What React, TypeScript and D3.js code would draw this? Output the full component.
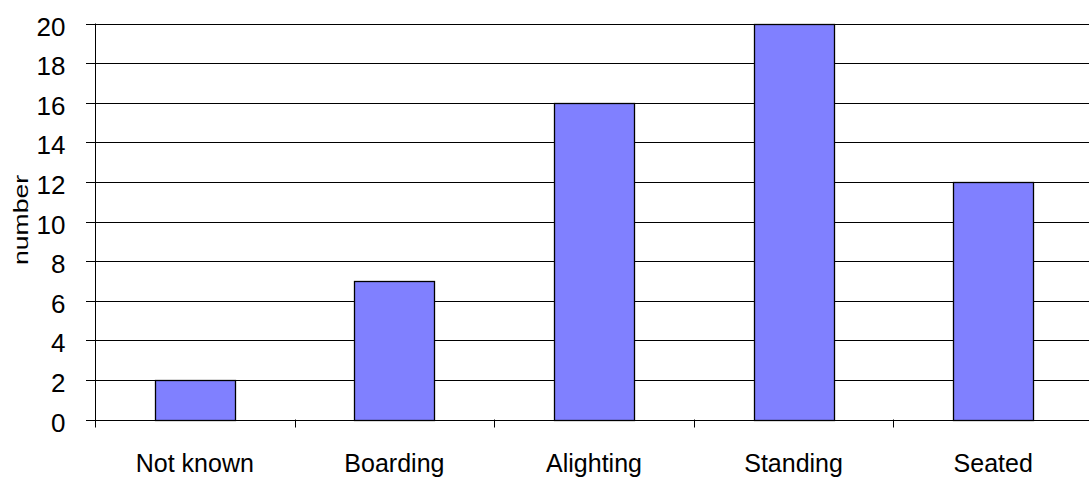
import * as d3 from "d3";

const categories = ["Not known", "Boarding", "Alighting", "Standing", "Seated"];
const values = [2, 7, 16, 20, 12];
const yTicks = [0, 2, 4, 6, 8, 10, 12, 14, 16, 18, 20];

const W = 1089;
const H = 477;

export default function App() {
  const left = 95;
  const right = 1093;
  const top = 23.5;
  const bottom = 419.5;

  const x = d3.scaleBand().domain(categories).range([left, right]).padding(0);
  const y = d3.scaleLinear().domain([0, 20]).range([bottom, top]);
  const barW = x.bandwidth() * 0.4;

  const font = "Arial, 'Liberation Sans', sans-serif";

  return (
    <svg
      width={W}
      height={H}
      style={{ position: "absolute", left: 0, top: 0, background: "#fff", fontFamily: font }}
    >
      {/* gridlines + y ticks */}
      {yTicks.map((t) => (
        <g key={t}>
          <line x1={86} x2={right} y1={Math.round(y(t)) + 0.5} y2={Math.round(y(t)) + 0.5} stroke="#000" strokeWidth={1} />
          <text x={65.5} y={y(t) + 12} textAnchor="end" fontSize={26} fill="#000">
            {t}
          </text>
        </g>
      ))}

      {/* bars */}
      {categories.map((c, i) => {
        const cx = (x(c) as number) + x.bandwidth() / 2;
        return (
          <rect
            key={c}
            x={Math.round(cx - barW / 2) + 0.5}
            y={Math.round(y(values[i])) + 0.5}
            width={Math.round(barW)}
            height={Math.round(y(0)) - Math.round(y(values[i]))}
            fill="#8080ff"
            stroke="#000"
            strokeWidth={1.3}
          />
        );
      })}

      {/* y axis line */}
      <line x1={95.5} x2={95.5} y1={top} y2={bottom + 8} stroke="#000" strokeWidth={1} />

      {/* x ticks */}
      {categories.map((c) => {
        const bx = Math.round((x(c) as number) + x.bandwidth()) + 0.5;
        return <line key={c} x1={bx} x2={bx} y1={bottom} y2={bottom + 8} stroke="#000" strokeWidth={1} />;
      })}

      {/* x labels */}
      {categories.map((c) => (
        <text
          key={c}
          x={(x(c) as number) + x.bandwidth() / 2}
          y={472}
          textAnchor="middle"
          fontSize={25}
          fill="#000"
        >
          {c}
        </text>
      ))}

      {/* y axis title */}
      <text
        transform={`translate(28, 220) rotate(-90)`}
        textAnchor="middle"
        fontSize={21}
        textLength={90}
        lengthAdjust="spacingAndGlyphs"
        fill="#000"
      >
        number
      </text>
    </svg>
  );
}
